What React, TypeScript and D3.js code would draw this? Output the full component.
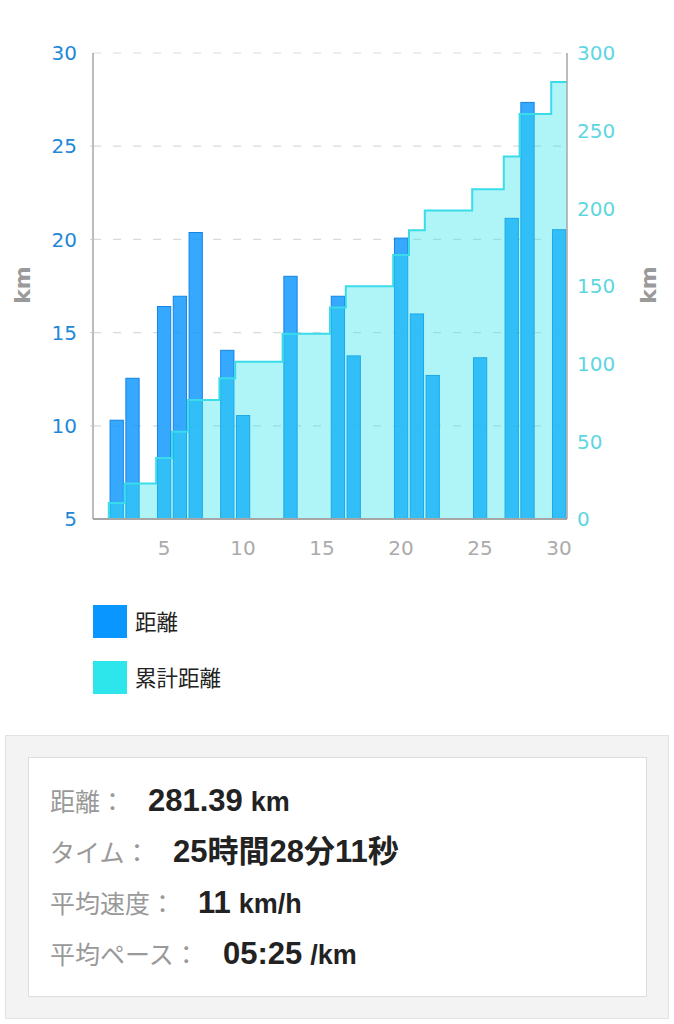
import { useEffect, useRef } from 'react';
import * as d3 from 'd3';

// daily distance (km), one entry per day of the month
const days = [1, 2, 3, 4, 5, 6, 7, 8, 9, 10, 11, 12, 13, 14, 15, 16, 17, 18, 19, 20, 21, 22, 23, 24, 25, 26, 27, 28, 29, 30];
const dailyKm = [0, 10.3, 12.55, 0, 16.4, 16.95, 20.37, 0, 14.05, 10.55, 0, 0, 18.02, 0, 0, 16.95, 13.75, 0, 0, 20.07, 16.0, 12.7, 0, 0, 13.65, 0, 21.13, 27.35, 0, 20.52];

const leftTicks = [5, 10, 15, 20, 25, 30];
const rightTicks = [0, 50, 100, 150, 200, 250, 300];
const xTicks = [5, 10, 15, 20, 25, 30];

const legendLabels = ['距離', '累計距離'];

const summaryLabels = ['距離：', 'タイム：', '平均速度：', '平均ペース：'];
const summaryValues = ['281.39', '25時間28分11秒', '11', '05:25'];
const summaryUnits = ['km', '', 'km/h', '/km'];

const BAR_COLOR = '#0A96FF';
const CUM_COLOR = '#2DE6EB';
const TICK_FONT = '"DejaVu Sans", Verdana, sans-serif';
const JP_FONT = '"Noto Sans CJK JP", "Noto Sans", sans-serif';
const VALUE_FONT = '"Liberation Sans", Arial, "Noto Sans CJK JP", sans-serif';

const App = () => {
  const svgRef = useRef<SVGSVGElement>(null);

  useEffect(() => {
    if (!svgRef.current) return;
    const root = d3.select(svgRef.current);
    root.selectAll('*').remove();

    const plot = { left: 93, right: 567, top: 53, bottom: 519 };

    const x = d3.scaleLinear().domain([0.5, 30.5]).range([plot.left, plot.right]);
    const yLeft = d3.scaleLinear().domain([5, 30]).range([plot.bottom, plot.top]);
    const yRight = d3.scaleLinear().domain([0, 300]).range([plot.bottom, plot.top]);

    const cumulative = Array.from(d3.cumsum(dailyKm));

    // gridlines
    root
      .append('g')
      .selectAll('line')
      .data(leftTicks.filter(t => t > 5))
      .enter()
      .append('line')
      .attr('x1', plot.left)
      .attr('x2', plot.right)
      .attr('y1', d => yLeft(d))
      .attr('y2', d => yLeft(d))
      .attr('stroke', '#DADADA')
      .attr('stroke-width', 1.2)
      .attr('stroke-dasharray', '8,12');

    // distance bars
    const barW = (x(1.5) - x(0.5)) * 0.84;
    const bars = days.map((d, i) => ({ day: d, km: dailyKm[i] })).filter(d => d.km > 0);
    root
      .append('g')
      .selectAll('rect')
      .data(bars)
      .enter()
      .append('rect')
      .attr('x', d => x(d.day) - barW / 2)
      .attr('y', d => yLeft(d.km))
      .attr('width', barW)
      .attr('height', d => yLeft(5) - yLeft(d.km))
      .attr('fill', BAR_COLOR)
      .attr('fill-opacity', 0.82)
      .attr('stroke', '#1384E6')
      .attr('stroke-width', 1);

    // cumulative step area
    const stepPts: [number, number][] = days.map((d, i) => [d - 0.5, cumulative[i]]);
    stepPts.push([days[days.length - 1] + 0.5, cumulative[cumulative.length - 1]]);

    const area = d3
      .area<[number, number]>()
      .x(d => x(d[0]))
      .y0(yRight(0))
      .y1(d => yRight(d[1]))
      .curve(d3.curveStepAfter);
    const line = d3
      .line<[number, number]>()
      .x(d => x(d[0]))
      .y(d => yRight(d[1]))
      .curve(d3.curveStepAfter);

    root
      .append('path')
      .datum(stepPts)
      .attr('d', area)
      .attr('fill', CUM_COLOR)
      .attr('fill-opacity', 0.38);
    root
      .append('path')
      .datum(stepPts)
      .attr('d', line)
      .attr('fill', 'none')
      .attr('stroke', '#3ADCEA')
      .attr('stroke-width', 2);

    // axes lines
    const axisG = root.append('g').attr('stroke', '#A6A6A6');
    axisG.append('line').attr('x1', plot.left).attr('x2', plot.left).attr('y1', plot.top).attr('y2', plot.bottom).attr('stroke-width', 1.5);
    axisG.append('line').attr('x1', plot.right).attr('x2', plot.right).attr('y1', plot.top).attr('y2', plot.bottom).attr('stroke-width', 1.5);
    axisG.append('line').attr('x1', plot.left).attr('x2', plot.right).attr('y1', plot.bottom).attr('y2', plot.bottom).attr('stroke-width', 2);
    axisG
      .selectAll('.ltick')
      .data(leftTicks.filter(t => t > 5 && t < 30))
      .enter()
      .append('line')
      .attr('x1', plot.left - 3)
      .attr('x2', plot.left)
      .attr('y1', d => yLeft(d))
      .attr('y2', d => yLeft(d))
      .attr('stroke', '#D0D0D0');

    // tick labels
    root
      .append('g')
      .selectAll('text')
      .data(leftTicks)
      .enter()
      .append('text')
      .attr('x', plot.left - 16)
      .attr('y', d => yLeft(d))
      .attr('dy', '0.36em')
      .attr('text-anchor', 'end')
      .attr('fill', '#1E88D8')
      .style('font', `20px ${TICK_FONT}`)
      .text(d => d);

    root
      .append('g')
      .selectAll('text')
      .data(rightTicks)
      .enter()
      .append('text')
      .attr('x', plot.right + 10)
      .attr('y', d => yRight(d))
      .attr('dy', '0.36em')
      .attr('fill', '#5ED6DF')
      .style('font', `20px ${TICK_FONT}`)
      .text(d => d);

    root
      .append('g')
      .selectAll('text')
      .data(xTicks)
      .enter()
      .append('text')
      .attr('x', d => x(d))
      .attr('y', plot.bottom + 29)
      .attr('dy', '0.36em')
      .attr('text-anchor', 'middle')
      .attr('fill', '#ABABAB')
      .style('font', `20px ${TICK_FONT}`)
      .text(d => d);

    // axis titles
    [22, 648].forEach(cx => {
      root
        .append('text')
        .attr('transform', `translate(${cx},285) rotate(-90)`)
        .attr('text-anchor', 'middle')
        .attr('dy', '0.36em')
        .attr('fill', '#9A9A9A')
        .style('font', `bold 22px ${TICK_FONT}`)
        .text('km');
    });

    // legend
    const legendY = d3.scalePoint<string>().domain(legendLabels).range([605, 661]);
    const legend = root
      .append('g')
      .selectAll('g')
      .data(legendLabels)
      .enter()
      .append('g')
      .attr('transform', d => `translate(93,${legendY(d)})`);
    legend
      .append('rect')
      .attr('width', 34)
      .attr('height', 33)
      .attr('fill', (d, i) => (i === 0 ? BAR_COLOR : CUM_COLOR));
    legend
      .append('text')
      .attr('x', 42)
      .attr('y', 17)
      .attr('dy', '0.36em')
      .attr('fill', '#222')
      .style('font', `21.5px ${JP_FONT}`)
      .text(d => d);

    // summary box
    root
      .append('rect')
      .attr('x', 5.5)
      .attr('y', 735.5)
      .attr('width', 663)
      .attr('height', 283)
      .attr('fill', '#F3F3F3')
      .attr('stroke', '#E2E2E2');
    root
      .append('rect')
      .attr('x', 28.5)
      .attr('y', 757.5)
      .attr('width', 618)
      .attr('height', 239)
      .attr('fill', '#FFFFFF')
      .attr('stroke', '#DDDDDD');

    const rowY = d3.scalePoint<number>().domain(d3.range(summaryLabels.length)).range([811, 964]);
    const rows = root
      .append('g')
      .selectAll('g')
      .data(summaryLabels)
      .enter()
      .append('g')
      .attr('transform', (d, i) => `translate(0,${rowY(i)})`);
    rows
      .append('text')
      .attr('x', 50)
      .attr('fill', '#999999')
      .style('font', `25px ${JP_FONT}`)
      .text(d => d);
    const valueText = rows
      .append('text')
      .attr('x', d => 50 + d.length * 25 + 23)
      .attr('fill', '#222222')
      .style('font', `bold 31px ${VALUE_FONT}`);
    valueText.append('tspan').text((d, i) => summaryValues[i]);
    valueText
      .append('tspan')
      .attr('dx', 8)
      .style('font-size', '27px')
      .text((d, i) => summaryUnits[i]);
  }, []);

  return (
    <div style={{ position: 'absolute', left: 0, top: 0, width: 674, height: 1024, background: '#fff' }}>
      <svg ref={svgRef} width={674} height={1024} style={{ display: 'block' }} />
    </div>
  );
};

export default App;
